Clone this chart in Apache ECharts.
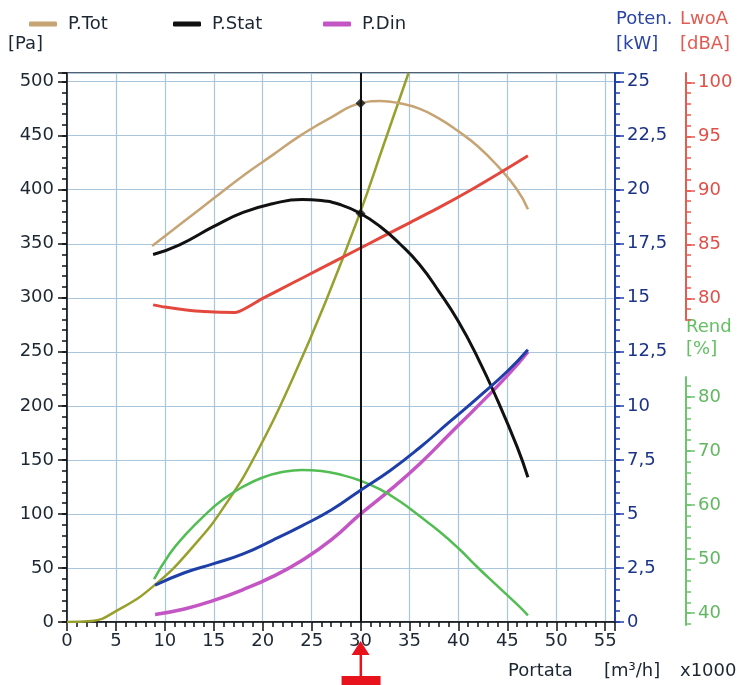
<!DOCTYPE html>
<html>
<head>
<meta charset="utf-8">
<script src="https://cdn.jsdelivr.net/npm/echarts@6/dist/echarts.min.js"></script>
<style>
  html, body { margin: 0; padding: 0; background: #ffffff; }
  #chart { width: 743px; height: 685px; }
</style>
</head>
<body>
<div id="chart"></div>
<script>
// Fan performance curves vs. flow rate (Portata, x1000 m³/h)

// Total pressure [Pa]
const totQ  = [8.7, 12, 15, 18, 21, 24, 27, 30, 32, 34, 36, 38, 40, 42, 44, 46, 47.1];
const totPa = [348, 371, 392, 413, 432, 451, 467, 480, 482, 480, 475, 466, 454, 440, 422, 400, 382];

// Static pressure [Pa]
const statQ  = [8.8, 11.5, 15, 18, 21, 24, 26, 28, 30, 32, 34, 36, 38, 40, 42, 44, 46, 47.1];
const statPa = [340, 349, 366, 379, 387, 391, 390, 386, 378, 366, 350, 331, 306, 278, 244, 205, 162, 134];

// Dynamic pressure [Pa]
const dinQ  = [9, 12, 15, 18, 21, 24, 27, 30, 33, 36, 39, 42, 45, 47.1];
const dinPa = [7, 12, 20, 30, 42, 57, 76, 100, 122, 146, 173, 200, 228, 250];

// Absorbed power [kW]
const powQ  = [9, 12, 15, 18, 21, 24, 27, 30, 33, 36, 39, 42, 45, 47.1];
const powKW = [1.7, 2.28, 2.7, 3.15, 3.78, 4.45, 5.18, 6.1, 7.0, 8.05, 9.22, 10.38, 11.6, 12.6];

// Sound power level LwoA [dBA]
const noiseQ   = [8.8, 10, 12, 14, 17.2, 20, 23, 26, 29, 32, 35, 38, 41, 44, 47.1];
const noiseDBA = [79.4, 79.2, 78.95, 78.78, 78.7, 80.0, 81.4, 82.8, 84.2, 85.6, 87.0, 88.4, 89.9, 91.5, 93.2];

// Efficiency [%]
const effQ   = [8.9, 10.5, 12, 14, 16, 18, 20, 22, 24, 26, 28, 30, 32, 34, 36, 38, 40, 42, 44, 46, 47.1];
const effPct = [46.3, 51, 54.3, 58, 61.1, 63.4, 65.1, 66.1, 66.5, 66.3, 65.6, 64.5, 62.9, 60.7, 58.0, 55.2, 52.0, 48.4, 45.0, 41.6, 39.6];

// System resistance curve [Pa]
const sysQ  = [0, 2.5, 5, 8.8, 12.9, 16.3, 19.7, 23.1, 26.5, 30, 32.3, 34.9];
const sysPa = [0, 1, 10, 33, 70, 110, 162, 226, 298, 380, 440, 508];

// Operating point
const opQ = 30;
const opPa = [480, 378];

// Tick labels of the secondary scales
const dbaTicks = [80, 85, 90, 95, 100];
const dbaMinor = [78, 79, 80, 81, 82, 83, 84, 85, 86, 87, 88, 89, 90, 91, 92, 93, 94, 95, 96, 97, 98, 99, 100];
const effTicks = [40, 50, 60, 70, 80];
const effMinor = [38, 40, 42, 44, 46, 48, 50, 52, 54, 56, 58, 60, 62, 64, 66, 68, 70, 72, 74, 76, 78, 80, 82];

const zip = (xs, ys) => xs.map((x, i) => [x, ys[i]]);

const FONT = 'DejaVu Sans';
const FS = 18;
const INK = '#1c2733';
const GRIDC = '#a9c6dc';
const BLUE = '#1f3fa8';
const RED = '#e4483c';
const GREEN = '#52bd52';
const RED_AX = '#e85a50';
const GREEN_AX = '#6cc46c';

const chart = echarts.init(document.getElementById('chart'), null, { renderer: 'canvas' });

// Plot frame geometry shared by the stacked grids
const MAIN = { left: 67, right: 128, top: 73, bottom: 63 };
const DBA = { left: 67, right: 128, top: 73, bottom: 365 };
const EFF = { left: 67, right: 128, top: 377, bottom: 60 };

const hiddenX = (g) => ({ gridIndex: g, type: 'value', min: 0, max: 56, show: false });

// Axis carrying only the short intermediate ticks of a scale
const minorY = (g, pos, offset, min, max, color, interval, values) => {
  const tick = { show: true, length: 5, lineStyle: { color: color, width: 1.5 } };
  if (values) tick.customValues = values;
  const axis = {
    gridIndex: g, type: 'value', position: pos, offset: offset, min: min, max: max,
    axisLine: { show: false, onZero: false },
    axisTick: tick,
    axisLabel: { show: false }, splitLine: { show: false }
  };
  if (interval) axis.interval = interval;
  return axis;
};

const option = {
  animation: false,
  backgroundColor: '#ffffff',
  textStyle: { fontFamily: FONT },
  legend: [
    { data: ['P.Tot'], left: 24, top: 10 },
    { data: ['P.Stat'], left: 168, top: 10 },
    { data: ['P.Din'], left: 318, top: 10 }
  ].map(l => Object.assign(l, {
    icon: 'roundRect', itemWidth: 28, itemHeight: 5, itemGap: 0,
    textStyle: { fontFamily: FONT, fontSize: FS, color: INK, padding: [0, 0, 0, 6] }
  })),
  grid: [
    Object.assign({ show: true, borderColor: '#1e2a3a', borderWidth: 1.5, backgroundColor: 'transparent' }, MAIN), // 0 main
    Object.assign({}, DBA),   // 1 dBA scale
    Object.assign({}, EFF),   // 2 efficiency scale
    Object.assign({}, MAIN),  // 3 minor ticks of the main scales
    Object.assign({}, DBA),   // 4 minor ticks of the dBA scale
    Object.assign({}, EFF)    // 5 minor ticks of the efficiency scale
  ],
  xAxis: [
    {
      gridIndex: 0, type: 'value', position: 'bottom', min: 0, max: 56, interval: 5,
      axisLine: { show: true, onZero: false, lineStyle: { color: '#111', width: 1.5 } },
      axisTick: { show: true, length: 9, lineStyle: { color: '#111', width: 1.5 } },
      axisLabel: { fontFamily: FONT, fontSize: FS, color: INK, margin: 10,
        formatter: v => (v > 55 ? '' : String(v)) },
      splitLine: { show: true, lineStyle: { color: GRIDC, width: 1.2 } }
    },
    hiddenX(1),
    hiddenX(2),
    {
      gridIndex: 3, type: 'value', position: 'bottom', min: 0, max: 56, interval: 1,
      axisLine: { show: false, onZero: false },
      axisTick: { show: true, length: 5, lineStyle: { color: '#111', width: 1.5 } },
      axisLabel: { show: false }, splitLine: { show: false }
    },
    hiddenX(4),
    hiddenX(5)
  ],
  yAxis: [
    { // 0: pressure [Pa]
      gridIndex: 0, type: 'value', position: 'left', min: 0, max: 508, interval: 50,
      axisLine: { show: true, onZero: false, lineStyle: { color: '#111', width: 1.5 } },
      axisTick: { show: true, length: 9, lineStyle: { color: '#111', width: 1.5 } },
      axisLabel: { fontFamily: FONT, fontSize: FS, color: INK, margin: 13,
        formatter: v => (v > 500 ? '' : String(v)) },
      splitLine: { show: true, lineStyle: { color: GRIDC, width: 1.2 } }
    },
    { // 1: power [kW]
      gridIndex: 0, type: 'value', position: 'right', offset: 0, min: 0, max: 25.4, interval: 2.5,
      axisLine: { show: true, onZero: false, lineStyle: { color: BLUE, width: 2 } },
      axisTick: { show: true, length: 9, lineStyle: { color: BLUE, width: 1.5 } },
      axisLabel: { fontFamily: FONT, fontSize: FS, color: '#1c3487', margin: 12,
        formatter: v => (v > 25.01 ? '' : String(v).replace('.', ',')) },
      splitLine: { show: false }
    },
    { // 2: sound power [dBA]
      gridIndex: 1, type: 'value', position: 'right', offset: 71, min: 78, max: 100.87,
      axisLine: { show: true, onZero: false, lineStyle: { color: RED_AX, width: 2 } },
      axisTick: { show: true, length: 9, customValues: dbaTicks, lineStyle: { color: RED_AX, width: 1.5 } },
      axisLabel: { fontFamily: FONT, fontSize: FS, color: '#e05048', margin: 12, customValues: dbaTicks },
      splitLine: { show: false }
    },
    { // 3: efficiency [%]
      gridIndex: 2, type: 'value', position: 'right', offset: 71, min: 37.8, max: 83.7,
      axisLine: { show: true, onZero: false, lineStyle: { color: GREEN_AX, width: 2 } },
      axisTick: { show: true, length: 9, customValues: effTicks, lineStyle: { color: GREEN_AX, width: 1.5 } },
      axisLabel: { fontFamily: FONT, fontSize: FS, color: '#62b862', margin: 12, customValues: effTicks },
      splitLine: { show: false }
    },
    minorY(3, 'left', 0, 0, 508, '#111', 10),
    minorY(3, 'right', 0, 0, 25.4, BLUE, 0.5),
    minorY(4, 'right', 71, 78, 100.87, RED_AX, null, dbaMinor),
    minorY(5, 'right', 71, 37.8, 83.7, GREEN_AX, null, effMinor)
  ],
  series: [
    {
      name: 'Impianto', type: 'line', xAxisIndex: 0, yAxisIndex: 0, data: zip(sysQ, sysPa),
      smooth: true, showSymbol: false, clip: true,
      lineStyle: { color: '#98a02c', width: 2.5 }, z: 3
    },
    {
      name: 'P.Tot', type: 'line', xAxisIndex: 0, yAxisIndex: 0, data: zip(totQ, totPa),
      smooth: true, showSymbol: false, color: '#c6a474',
      lineStyle: { color: '#c6a474', width: 2.5 }, z: 4
    },
    {
      name: 'P.Stat', type: 'line', xAxisIndex: 0, yAxisIndex: 0, data: zip(statQ, statPa),
      smooth: true, showSymbol: false, color: '#111111',
      lineStyle: { color: '#111111', width: 3 }, z: 5,
      markLine: {
        silent: true, symbol: 'none', animation: false,
        label: { show: false },
        lineStyle: { color: '#111', width: 2, type: 'solid' },
        data: [{ xAxis: opQ }]
      }
    },
    {
      name: 'P.Din', type: 'line', xAxisIndex: 0, yAxisIndex: 0, data: zip(dinQ, dinPa),
      smooth: true, showSymbol: false, color: '#c455c4',
      lineStyle: { color: '#c455c4', width: 3.5 }, z: 4
    },
    {
      name: 'Poten.', type: 'line', xAxisIndex: 0, yAxisIndex: 1, data: zip(powQ, powKW),
      smooth: true, showSymbol: false,
      lineStyle: { color: BLUE, width: 3 }, z: 5
    },
    {
      name: 'LwoA', type: 'line', xAxisIndex: 1, yAxisIndex: 2, data: zip(noiseQ, noiseDBA),
      smooth: 0.2, showSymbol: false,
      lineStyle: { color: RED, width: 3 }, z: 4
    },
    {
      name: 'Rend', type: 'line', xAxisIndex: 2, yAxisIndex: 3, data: zip(effQ, effPct),
      smooth: true, showSymbol: false,
      lineStyle: { color: GREEN, width: 2.5 }, z: 4
    },
    {
      name: 'Punto di lavoro', type: 'scatter', xAxisIndex: 0, yAxisIndex: 0,
      data: opPa.map(p => [opQ, p]),
      symbol: 'diamond', symbolSize: 10,
      itemStyle: { color: '#111' }, z: 8
    }
  ]
};

chart.setOption(option);

// Header / unit labels and the flow-rate marker under the axis
const txt = (x, y, text, color) => ({
  type: 'text', left: x, top: y, silent: true,
  style: { text: text, fill: color, font: FS + 'px "' + FONT + '"' }
});

const base = chart.convertToPixel({ gridIndex: 0 }, [opQ, 0]);
const ax = base[0];
const ay = base[1];

chart.setOption({
  graphic: [
    txt(8, 35, '[Pa]', INK),
    txt(616, 10, 'Poten.', '#2a44a8'),
    txt(616, 35, '[kW]', '#2a44a8'),
    txt(680, 10, 'LwoA', '#e45a50'),
    txt(680, 35, '[dBA]', '#e45a50'),
    txt(686, 318, 'Rend', '#62c062'),
    txt(686, 340, '[%]', '#62c062'),
    txt(508, 662, 'Portata', INK),
    txt(604, 662, '[m³/h]', INK),
    txt(680, 662, 'x1000', INK),
    {
      type: 'polygon', silent: true, z: 20,
      shape: { points: [[ax, ay + 19], [ax - 9, ay + 33], [ax + 9, ay + 33]] },
      style: { fill: '#e8121c' }
    },
    {
      type: 'rect', silent: true, z: 20,
      shape: { x: ax - 1, y: ay + 32, width: 2.5, height: 24 },
      style: { fill: '#e8121c' }
    },
    {
      type: 'rect', silent: true, z: 20,
      shape: { x: ax - 19, y: ay + 54, width: 39, height: 9 },
      style: { fill: '#e8121c' }
    }
  ]
});
</script>
</body>
</html>
